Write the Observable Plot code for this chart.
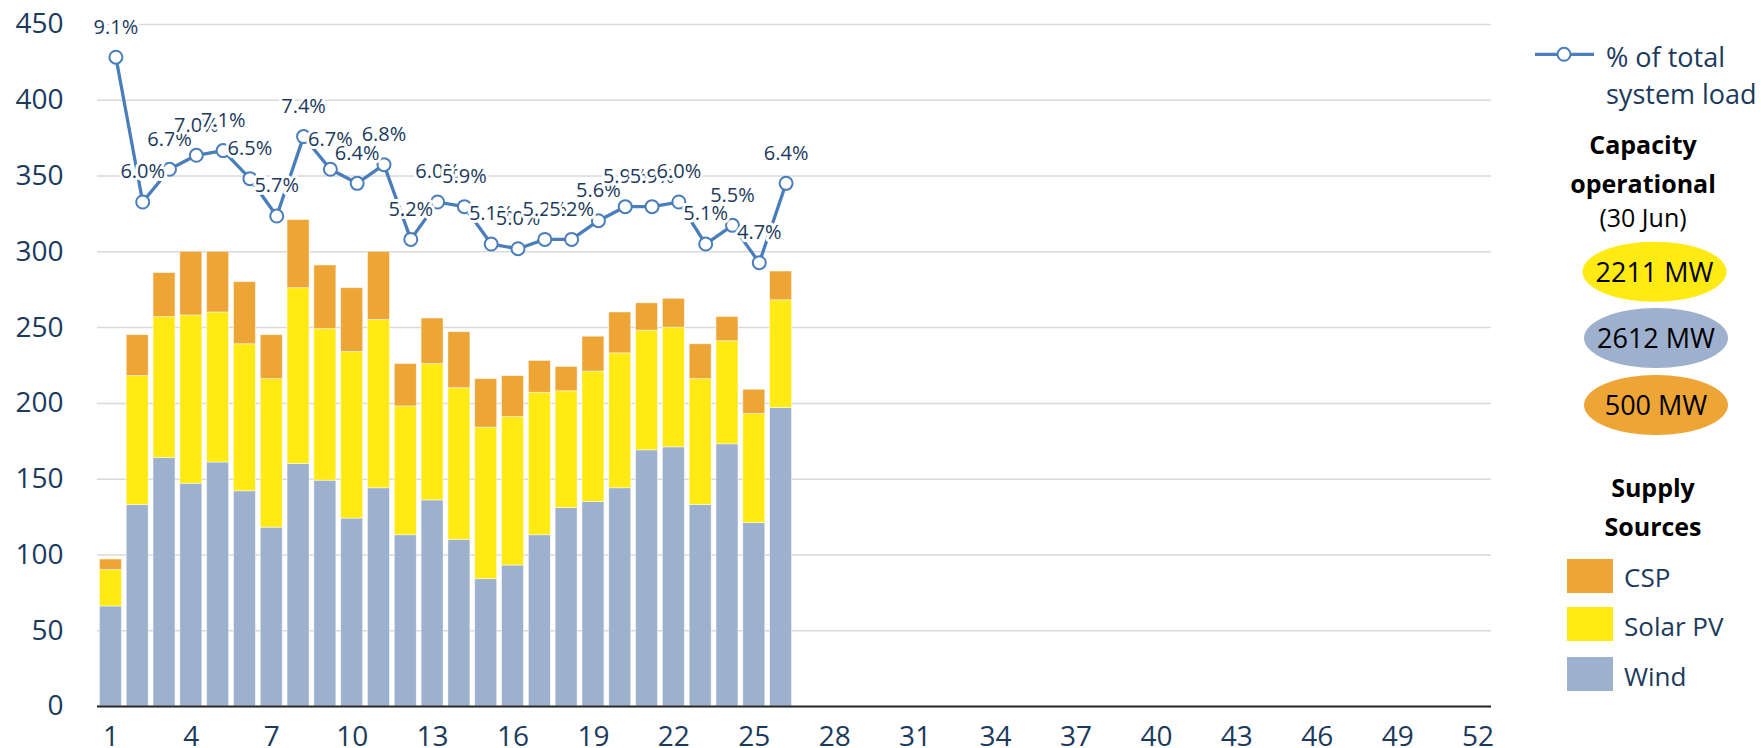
<!DOCTYPE html>
<html>
<head>
<meta charset="utf-8">
<script src="https://cdn.jsdelivr.net/npm/d3@7"></script>
<script src="https://cdn.jsdelivr.net/npm/@observablehq/plot@0.6"></script>
<style>
  html, body { margin: 0; padding: 0; background: #fff; }
  #wrap { display: flex; flex-direction: row; width: 1761px; height: 748px; overflow: hidden; }
  #chart { width: 1500px; height: 748px; }
  #legend { width: 261px; height: 748px; }
  #legend svg { display: block; }
</style>
</head>
<body>
<div id="wrap"><div id="chart"></div><div id="legend"></div></div>
<script>
// ---- data ----
const weeks = [1,2,3,4,5,6,7,8,9,10,11,12,13,14,15,16,17,18,19,20,21,22,23,24,25,26];
const wind    = [66,133,164,147,161,142,118,160,149,124,144,113,136,110,84,93,113,131,135,144,169,171,133,173,121,197];
const solarPV = [24,85,93,111,99,97,98,116,100,110,111,85,90,100,100,98,94,77,86,89,79,79,83,68,72,71];
const csp     = [7,27,29,42,40,41,29,45,42,42,45,28,30,37,32,27,21,16,23,27,18,19,23,16,16,19];
const pctLoad = [9.1,6.0,6.7,7.0,7.1,6.5,5.7,7.4,6.7,6.4,6.8,5.2,6.0,5.9,5.1,5.0,5.2,5.2,5.6,5.9,5.9,6.0,5.1,5.5,4.7,6.4];
const allWeeks = [1,2,3,4,5,6,7,8,9,10,11,12,13,14,15,16,17,18,19,20,21,22,23,24,25,26,27,28,29,30,31,32,33,34,35,36,37,38,39,40,41,42,43,44,45,46,47,48,49,50,51,52];
const xTicks = [1,4,7,10,13,16,19,22,25,28,31,34,37,40,43,46,49,52];
const yTicks = [0,50,100,150,200,250,300,350,400,450];
const sources = ["Wind","Solar PV","CSP"];
const sourceColors = ["#9db0cd","#ffea14","#eda535"];
const capacityLabels = ["2211 MW","2612 MW","500 MW"];
const capacityColors = ["#ffea14","#9db0cd","#eda535"];
// hidden secondary axis for the % line
const pctAxis = [-4.8, 9.8];

const rows = weeks.flatMap((w, i) => [
  {week: w, source: "Wind", value: wind[i]},
  {week: w, source: "Solar PV", value: solarPV[i]},
  {week: w, source: "CSP", value: csp[i]}
]);
const pctToPrimary = d3.scaleLinear().domain(pctAxis).range([0, 450]);
const lineData = weeks.map((w, i) => ({week: w, pct: pctLoad[i], yv: pctToPrimary(pctLoad[i])}));

const navy = "#1b3a5c";
const lineBlue = "#4a7ebb";
const font = "'Open Sans', sans-serif";

const chart = Plot.plot({
  width: 1500,
  height: 748,
  marginLeft: 97,
  marginRight: 9,
  marginTop: 24,
  marginBottom: 42,
  style: {fontFamily: font, background: "#fff"},
  x: {type: "band", domain: allWeeks, paddingInner: 0.18, paddingOuter: 0.09},
  y: {domain: [0, 450]},
  color: {domain: sources, range: sourceColors},
  marks: [
    Plot.gridY(yTicks, {stroke: "#d9d9d9", strokeOpacity: 1, strokeWidth: 1.5}),
    Plot.barY(rows, {x: "week", y: "value", fill: "source", order: sources, stroke: "#ffffff", strokeWidth: 0.8, strokeOpacity: 0.6}),
    Plot.ruleY([0], {stroke: "#262626", strokeWidth: 2}),
    Plot.axisX(xTicks, {tickSize: 0, tickPadding: 20, fontSize: 28, color: navy, label: null}),
    Plot.axisY(yTicks, {tickSize: 0, tickPadding: 34, fontSize: 28, color: navy, label: null}),
    Plot.line(lineData, {x: "week", y: "yv", stroke: lineBlue, strokeWidth: 3.3, dx: 5}),
    Plot.dot(lineData, {x: "week", y: "yv", r: 6.5, fill: "white", stroke: lineBlue, strokeWidth: 2, dx: 5}),
    Plot.text(lineData, {x: "week", y: "yv", text: d => d.pct.toFixed(1) + "%", dx: 5, dy: -30, fontSize: 20, fill: navy, stroke: "white", strokeWidth: 6})
  ]
});
document.getElementById("chart").appendChild(chart);

// ---- legend (right side) ----
const ns = "http://www.w3.org/2000/svg";
const lg = document.createElementNS(ns, "svg");
lg.setAttribute("width", 261);
lg.setAttribute("height", 748);
lg.style.fontFamily = font;
function el(tag, attrs, text) {
  const e = document.createElementNS(ns, tag);
  for (const k in attrs) e.setAttribute(k, attrs[k]);
  if (text != null) e.textContent = text;
  lg.appendChild(e);
  return e;
}
// line legend
el("line", {x1: 35, x2: 94, y1: 54.3, y2: 54.3, stroke: lineBlue, "stroke-width": 3.3});
el("circle", {cx: 64, cy: 54.3, r: 6.5, fill: "white", stroke: lineBlue, "stroke-width": 2});
el("text", {x: 106, y: 66.7, fill: navy, "font-size": 27}, "% of total");
el("text", {x: 106, y: 104, fill: navy, "font-size": 27}, "system load");
// capacity
el("text", {x: 143, y: 154, "text-anchor": "middle", "font-weight": "bold", "font-size": 25, fill: "#000"}, "Capacity");
el("text", {x: 143, y: 192.7, "text-anchor": "middle", "font-weight": "bold", "font-size": 25, fill: "#000"}, "operational");
el("text", {x: 143, y: 226.7, "text-anchor": "middle", "font-size": 25, fill: "#000"}, "(30 Jun)");
const ellY = [271.7, 338, 405];
const ellX = [154.5, 156, 156];
capacityLabels.forEach((t, i) => {
  el("ellipse", {cx: ellX[i], cy: ellY[i], rx: 72, ry: 30, fill: capacityColors[i]});
  el("text", {x: ellX[i], y: ellY[i] + 10, "text-anchor": "middle", "font-size": 27, fill: "#000"}, t);
});
// supply sources
el("text", {x: 153, y: 497.3, "text-anchor": "middle", "font-weight": "bold", "font-size": 25, fill: "#000"}, "Supply");
el("text", {x: 153, y: 536.3, "text-anchor": "middle", "font-weight": "bold", "font-size": 25, fill: "#000"}, "Sources");
const swY = [559, 607, 657];
const labY = [587.3, 636.3, 685.7];
const legendOrder = ["CSP", "Solar PV", "Wind"];
legendOrder.forEach((s, i) => {
  el("rect", {x: 67, y: swY[i], width: 46, height: 34, fill: sourceColors[sources.indexOf(s)]});
  el("text", {x: 124, y: labY[i], "font-size": 26, fill: navy}, s);
});
document.getElementById("legend").appendChild(lg);
</script>
</body>
</html>
